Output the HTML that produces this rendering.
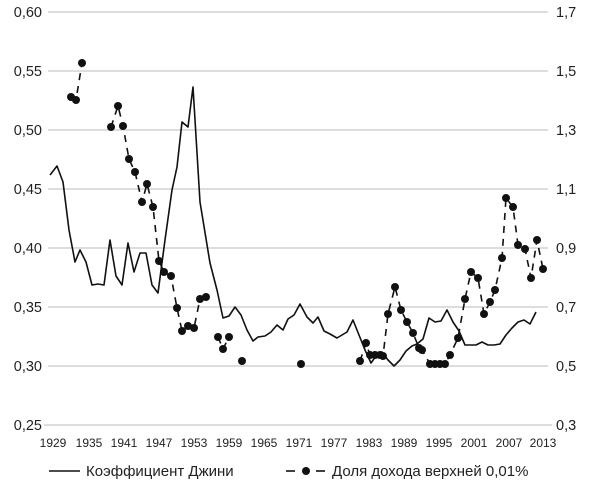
<!DOCTYPE html>
<html><head><meta charset="utf-8"><style>
body{margin:0;background:#fff;}
svg{display:block;font-family:"Liberation Sans",sans-serif;}
</style></head><body>
<svg width="600" height="485" viewBox="0 0 600 485">
<g stroke="#bbb" stroke-width="1">
<line x1="48" x2="548" y1="12" y2="12"/><line x1="48" x2="548" y1="71" y2="71"/><line x1="48" x2="548" y1="130" y2="130"/><line x1="48" x2="548" y1="189" y2="189"/><line x1="48" x2="548" y1="248" y2="248"/><line x1="48" x2="548" y1="307" y2="307"/><line x1="48" x2="548" y1="366" y2="366"/><line x1="44" x2="552" y1="425" y2="425"/>
</g>
<g font-size="14.5" fill="#222" text-anchor="end">
<text x="42" y="17">0,60</text><text x="42" y="76">0,55</text><text x="42" y="135">0,50</text><text x="42" y="194">0,45</text><text x="42" y="253">0,40</text><text x="42" y="312">0,35</text><text x="42" y="371">0,30</text><text x="42" y="430">0,25</text>
</g>
<g font-size="14.5" fill="#222">
<text x="556" y="17">1,7</text><text x="556" y="76">1,5</text><text x="556" y="135">1,3</text><text x="556" y="194">1,1</text><text x="556" y="253">0,9</text><text x="556" y="312">0,7</text><text x="556" y="371">0,5</text><text x="556" y="430">0,3</text>
</g>
<g font-size="12" fill="#222" text-anchor="middle">
<text x="53" y="447">1929</text><text x="89" y="447">1935</text><text x="124" y="447">1941</text><text x="159" y="447">1947</text><text x="194" y="447">1953</text><text x="229" y="447">1959</text><text x="264" y="447">1965</text><text x="299" y="447">1971</text><text x="334" y="447">1977</text><text x="369" y="447">1983</text><text x="404" y="447">1989</text><text x="439" y="447">1995</text><text x="474" y="447">2001</text><text x="509" y="447">2007</text><text x="543" y="447">2013</text>
</g>
<polyline fill="none" stroke="#111" stroke-width="1.6" stroke-linejoin="round" points="50,175 57,166 63,182 69,230 75,262 80,250 86,262 92,285 98,284 104,285 110,240 116,276 122,285 128,243 134,272 140,253 146,253 152,285 158,293 165,240 172,190 177,167 182,122 188,127 193,87 200,202 210,263 217,290 223,318 229,316 235,307 241,315 247,330 253,341 258,337 265,336 271,332 277,325 283,330 288,319 294,315 300,304 307,317 313,323 318,317 324,331 330,334 337,338 347,332 353,320 359,335 365,350 371,363 376,356 382,352 388,360 394,366 400,360 406,351 412,346 417,344 423,339 429,318 435,322 441,321 447,310 453,322 459,331 465,345 471,345 476,345 482,342 488,345 494,345 500,344 506,335 512,328 518,322 524,320 530,324 536,312"/>
<g fill="none" stroke="#111" stroke-width="1.6" stroke-dasharray="7,6">
<polyline points="71,97 76,100 82,63"/>
<polyline points="111,127 118,106 123,126 129,159 135,172 142,202 147,184 153,207 159,261 164,272 171,276 177,308 182,331 188,326 194,328 200,299 206,297"/>
<polyline points="218,337 223,349 229,337"/>
<polyline points="360,361 366,343 370,355 375,355 380,355 383,356 388,314 395,287 401,310 407,322 413,333 419,348 422,350 430,364 435,364 440,364 445,364 450,355 458,338 465,299 471,272 478,278 484,314 490,302 495,290 502,258 506,198 513,207 518,245 525,249 531,278 537,240 543,269"/>
</g>
<g fill="#111">
<circle cx="71" cy="97" r="4"/><circle cx="76" cy="100" r="4"/><circle cx="82" cy="63" r="4"/><circle cx="111" cy="127" r="4"/><circle cx="118" cy="106" r="4"/><circle cx="123" cy="126" r="4"/><circle cx="129" cy="159" r="4"/><circle cx="135" cy="172" r="4"/><circle cx="142" cy="202" r="4"/><circle cx="147" cy="184" r="4"/><circle cx="153" cy="207" r="4"/><circle cx="159" cy="261" r="4"/><circle cx="164" cy="272" r="4"/><circle cx="171" cy="276" r="4"/><circle cx="177" cy="308" r="4"/><circle cx="182" cy="331" r="4"/><circle cx="188" cy="326" r="4"/><circle cx="194" cy="328" r="4"/><circle cx="200" cy="299" r="4"/><circle cx="206" cy="297" r="4"/><circle cx="218" cy="337" r="4"/><circle cx="223" cy="349" r="4"/><circle cx="229" cy="337" r="4"/><circle cx="242" cy="361" r="4"/><circle cx="301" cy="364" r="4"/><circle cx="360" cy="361" r="4"/><circle cx="366" cy="343" r="4"/><circle cx="370" cy="355" r="4"/><circle cx="375" cy="355" r="4"/><circle cx="380" cy="355" r="4"/><circle cx="383" cy="356" r="4"/><circle cx="388" cy="314" r="4"/><circle cx="395" cy="287" r="4"/><circle cx="401" cy="310" r="4"/><circle cx="407" cy="322" r="4"/><circle cx="413" cy="333" r="4"/><circle cx="419" cy="348" r="4"/><circle cx="422" cy="350" r="4"/><circle cx="430" cy="364" r="4"/><circle cx="435" cy="364" r="4"/><circle cx="440" cy="364" r="4"/><circle cx="445" cy="364" r="4"/><circle cx="450" cy="355" r="4"/><circle cx="458" cy="338" r="4"/><circle cx="465" cy="299" r="4"/><circle cx="471" cy="272" r="4"/><circle cx="478" cy="278" r="4"/><circle cx="484" cy="314" r="4"/><circle cx="490" cy="302" r="4"/><circle cx="495" cy="290" r="4"/><circle cx="502" cy="258" r="4"/><circle cx="506" cy="198" r="4"/><circle cx="513" cy="207" r="4"/><circle cx="518" cy="245" r="4"/><circle cx="525" cy="249" r="4"/><circle cx="531" cy="278" r="4"/><circle cx="537" cy="240" r="4"/><circle cx="543" cy="269" r="4"/>
</g>
<line x1="49" x2="80" y1="471" y2="471" stroke="#111" stroke-width="1.6"/>
<text x="86" y="476" font-size="15" fill="#222">Коэффициент Джини</text>
<line x1="286" x2="295" y1="471" y2="471" stroke="#111" stroke-width="1.6"/>
<circle cx="306" cy="471" r="4" fill="#111"/>
<line x1="316" x2="325" y1="471" y2="471" stroke="#111" stroke-width="1.6"/>
<text x="332" y="476" font-size="15" fill="#222">Доля дохода верхней 0,01%</text>
</svg>
</body></html>
